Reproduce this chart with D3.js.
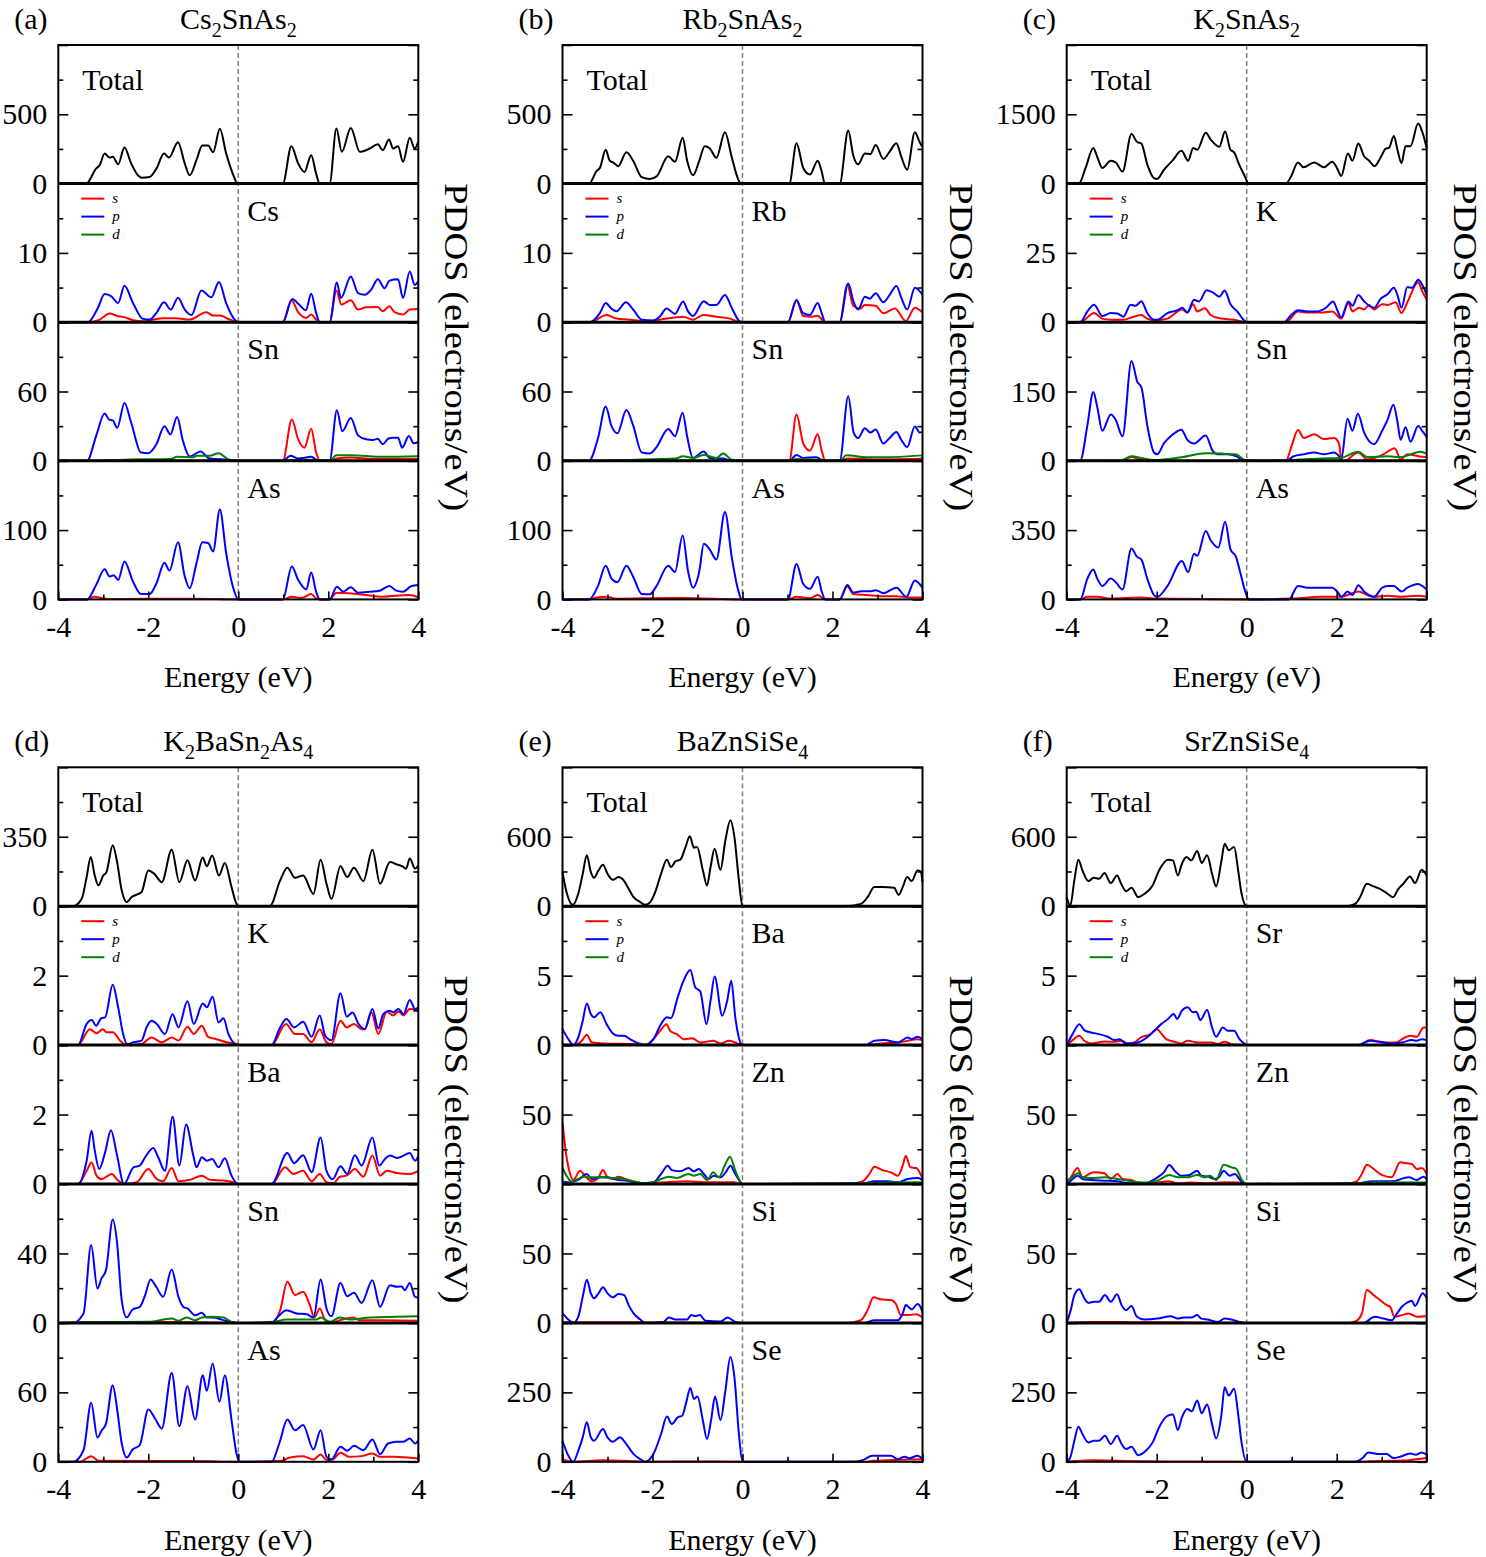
<!DOCTYPE html>
<html><head><meta charset="utf-8">
<script src="https://cdn.jsdelivr.net/npm/d3@7"></script>
<style>body{margin:0;background:#fff}</style>
</head><body>
<svg id="chart" width="1486" height="1557"></svg>
<script>
// ---------- tick labels / categories ----------
const panelLetters = ["(a)","(b)","(c)","(d)","(e)","(f)"];
const panelTitles = ["Cs2SnAs2","Rb2SnAs2","K2SnAs2","K2BaSn2As4","BaZnSiSe4","SrZnSiSe4"];
const elementLabels = [["Total","Cs","Sn","As"],["Total","Rb","Sn","As"],["Total","K","Sn","As"],
  ["Total","K","Ba","Sn","As"],["Total","Ba","Zn","Si","Se"],["Total","Sr","Zn","Si","Se"]];
const yMax = [[1000,20,120,200],[1000,20,120,200],[3000,50,300,700],[700,4,4,80,120],
  [1200,10,100,100,500],[1200,10,100,100,500]];
const xMajor = [-4,-2,0,2,4];
const xMinor = [-3,-1,1,3];
const orbitalNames = ["s","p","d"];
const xTitle = "Energy (eV)";
const yTitle = "PDOS (electrons/eV)";

// ---------- (a) Cs2SnAs2 ----------
const aTotal=[[-4,0],[-3.38,0],[-3.16,108],[-3.08,133],[-2.97,217],[-2.86,188],[-2.79,193],[-2.67,140],[-2.53,260],[-2.38,145],[-2.23,60],[-2.15,43],[-1.97,48],[-1.82,108],[-1.65,217],[-1.54,188],[-1.34,299],[-1.19,145],[-1.08,60],[-0.93,169],[-0.8,275],[-0.67,275],[-0.56,226],[-0.41,395],[-0.27,217],[-0.08,36],[-0.03,0],[0.99,0],[1.18,270],[1.33,145],[1.47,84],[1.62,205],[1.73,72],[1.81,0],[2.03,0],[2.18,398],[2.3,229],[2.5,402],[2.7,229],[2.92,253],[3.1,284],[3.21,241],[3.35,318],[3.44,253],[3.55,270],[3.66,157],[3.81,330],[3.92,253],[4.0,306]];
const aCsS=[[-4,0],[-3.34,0],[-3.08,0.38],[-2.86,1.24],[-2.67,0.86],[-2.56,0.77],[-2.34,0.29],[-2.12,0.14],[-1.97,0.29],[-1.67,0.57],[-1.38,0.57],[-1.08,0.38],[-0.71,1.44],[-0.56,0.96],[-0.41,0.96],[-0.19,0.38],[0,0],[0.99,0],[1.18,3.16],[1.33,1.44],[1.51,0.62],[1.62,1.1],[1.73,0.38],[1.81,0],[2.03,0],[2.18,4.59],[2.29,2.54],[2.5,3.16],[2.66,1.82],[2.84,2.15],[3.1,2.2],[3.21,1.58],[3.36,2.3],[3.47,1.44],[3.66,1.1],[3.81,1.82],[4.0,1.91]];
const aCsP=[[-4,0],[-3.34,0],[-3.12,2.06],[-2.97,4.07],[-2.82,3.73],[-2.67,2.77],[-2.53,5.26],[-2.34,2.77],[-2.12,0.48],[-1.97,0.38],[-1.82,1.34],[-1.65,2.87],[-1.5,1.82],[-1.34,3.54],[-1.19,1.82],[-1.04,1.05],[-0.82,4.59],[-0.6,3.59],[-0.43,5.79],[-0.27,2.77],[-0.08,0.38],[0,0],[0.99,0],[1.2,3.35],[1.35,2.54],[1.5,1.72],[1.62,4.11],[1.73,1.34],[1.81,0],[2.03,0],[2.19,5.74],[2.28,3.49],[2.5,6.6],[2.66,4.2],[2.81,3.97],[2.96,4.78],[3.1,6.2],[3.25,4.9],[3.36,6.0],[3.55,6.2],[3.66,3.49],[3.81,7.3],[3.92,5.4],[4.0,5.9]];
const aSnS=[[-4,0],[0.99,0],[1.19,35.7],[1.33,18.6],[1.47,11.4],[1.62,27.7],[1.73,7.1],[1.81,0],[2.03,0],[2.18,2],[2.5,2.9],[3,1.5],[4,1.5]];
const aSnP=[[-4,0],[-3.36,0],[-3.16,21.4],[-2.97,40.9],[-2.87,35.7],[-2.79,35],[-2.69,28.6],[-2.53,50],[-2.38,32.9],[-2.16,7.1],[-2.0,6.6],[-1.82,14.3],[-1.64,30],[-1.51,22.9],[-1.36,38],[-1.23,17.1],[-1.08,3.7],[-0.84,8],[-0.64,2],[-0.41,1.4],[-0.27,0.9],[0,0],[0.99,0],[1.16,4.3],[1.33,2],[1.62,3.4],[1.78,0],[2.03,0],[2.19,43.7],[2.31,25.7],[2.5,37.1],[2.66,22],[2.84,18.6],[2.99,18],[3.1,19.1],[3.21,14.3],[3.33,19.1],[3.44,20],[3.55,20],[3.64,11.4],[3.79,21.4],[3.9,15.1],[4.0,16.3]];
const aSnD=[[-4,0],[-3.3,0],[-2.5,1],[-1.5,1.5],[-1.36,3.4],[-1.0,3],[-0.93,4.3],[-0.64,4.3],[-0.43,6.6],[-0.23,1.4],[0,0],[1.0,0],[1.5,1],[1.8,0.5],[2.03,0],[2.18,4.9],[2.5,4.9],[3.21,3.4],[4.0,4]];
const aAsS=[[-4,0],[-3.36,0],[-3.2,3.9],[-2.9,0.5],[-2,1],[-1,1],[0,0],[0.99,0],[1.19,3.9],[1.4,2],[1.62,7.7],[1.73,1.5],[1.81,0],[2.03,0],[2.18,9.7],[2.48,8.7],[2.84,6.3],[3.21,3.9],[3.8,6.3],[4.0,2.9]];
const aAsP=[[-4,0],[-3.36,0],[-3.16,20.8],[-2.97,43.6],[-2.86,33],[-2.77,35],[-2.67,28],[-2.53,54.7],[-2.34,25.7],[-2.16,7.7],[-1.97,7.7],[-1.82,23],[-1.64,53],[-1.53,41.6],[-1.34,82.3],[-1.19,33],[-1.08,16],[-0.93,52],[-0.8,82.3],[-0.67,81.4],[-0.56,69.2],[-0.41,129.8],[-0.27,66.8],[-0.12,18.4],[0,0],[0.99,0],[1.19,47.5],[1.33,28],[1.51,14.5],[1.62,38.7],[1.73,11],[1.81,0],[2.03,0],[2.19,18.4],[2.33,11],[2.5,17.4],[2.66,9.7],[2.92,11],[3.14,12.6],[3.36,19.4],[3.51,12.6],[3.66,11],[3.85,19.4],[4.0,20.8]];

// ---------- (b) Rb2SnAs2 ----------
const bTotal=[[-4,0],[-3.41,0],[-3.24,92],[-3.17,113],[-3.04,244],[-2.95,165],[-2.87,152],[-2.76,126],[-2.58,226],[-2.43,165],[-2.24,47],[-2.06,34],[-1.91,52],[-1.65,197],[-1.5,157],[-1.33,331],[-1.23,165],[-1.1,60],[-0.96,165],[-0.84,270],[-0.73,255],[-0.58,186],[-0.39,370],[-0.24,192],[-0.1,34],[-0.04,0],[1.04,0],[1.2,291],[1.35,113],[1.5,66],[1.67,165],[1.76,87],[1.83,0],[2.16,0],[2.35,383],[2.46,205],[2.57,139],[2.72,218],[2.84,213],[2.96,278],[3.13,178],[3.27,231],[3.42,291],[3.53,192],[3.66,100],[3.83,370],[3.94,297],[4.0,265]];
const bRbS=[[-4,0],[-3.39,0],[-3.02,1.05],[-2.8,0.52],[-2.5,0.37],[-2.21,0.16],[-1.84,0.37],[-1.32,0.79],[-1.1,0.37],[-0.87,1.05],[-0.58,0.79],[-0.28,0.52],[-0.06,0],[1.01,0],[1.2,3.24],[1.35,0.9],[1.53,0.79],[1.67,0.94],[1.83,0],[2.16,0],[2.33,5.4],[2.46,2.36],[2.61,1.94],[2.72,2.5],[2.96,2.36],[3.13,1.3],[3.39,1.99],[3.63,0.16],[3.83,2.1],[4.0,1.41]];
const bRbP=[[-4,0],[-3.39,0],[-3.17,1.3],[-3.04,2.77],[-2.91,1.94],[-2.8,1.57],[-2.59,2.88],[-2.43,1.83],[-2.24,0.37],[-1.99,0.26],[-1.84,0.79],[-1.69,1.99],[-1.5,1.2],[-1.32,2.98],[-1.21,1.57],[-1.1,0.9],[-0.86,3.04],[-0.73,2.5],[-0.58,2.5],[-0.39,3.93],[-0.24,2.1],[-0.07,0.16],[0,0],[1.01,0],[1.2,3.14],[1.35,1.3],[1.5,1.05],[1.67,2.77],[1.76,1.3],[1.84,0],[2.16,0],[2.35,5.6],[2.47,2.9],[2.57,1.83],[2.72,3.66],[2.83,3.4],[2.96,4.19],[3.13,2.88],[3.27,3.93],[3.42,5.24],[3.53,3.5],[3.66,1.83],[3.83,4.97],[3.94,4.45],[4.0,3.93]];
const bSnS=[[-4,0],[1.04,0],[1.2,40],[1.35,15],[1.5,8.8],[1.67,22.9],[1.76,8.8],[1.84,0],[2.16,0],[2.35,2],[3,1.2],[3.8,1.5],[4,2]];
const bSnP=[[-4,0],[-3.41,0],[-3.21,19.7],[-3.04,47],[-2.91,30],[-2.78,23.8],[-2.58,43.9],[-2.43,30.7],[-2.24,7.2],[-2.06,6.3],[-1.91,11.9],[-1.65,27.6],[-1.5,21.3],[-1.33,41.7],[-1.23,21],[-1.1,2.5],[-0.86,8.1],[-0.73,2.5],[-0.43,1.9],[-0.24,0],[1.04,0],[1.2,5],[1.35,2.5],[1.64,3.1],[1.81,0],[2.16,0],[2.35,55.8],[2.47,24.4],[2.57,19.7],[2.72,28.2],[2.84,24.4],[2.96,27],[3.13,15],[3.27,19.7],[3.42,25],[3.53,18],[3.66,11.9],[3.83,29.8],[3.94,24.4],[4.0,25]];
const bSnD=[[-4,0],[-3.4,0],[-2.5,0.8],[-1.48,2],[-1.33,4],[-1.1,2.5],[-0.86,5],[-0.58,2.5],[-0.43,6.3],[-0.24,1],[0,0],[1.04,0],[1.2,1.5],[1.84,0.5],[2.16,0],[2.31,4.7],[2.76,3.1],[3.13,3.1],[4.0,4.7]];
const bAsS=[[-4,0],[-3.41,0],[-3.24,2.6],[-3.02,3.7],[-2.8,1],[-1.65,2],[-1.33,2],[-0.06,0],[1.01,0],[1.2,3.7],[1.5,1.5],[1.67,6.3],[1.84,0],[2.16,0],[2.33,18.5],[2.46,7.9],[2.76,6.3],[3.13,4.7],[3.42,4.7],[3.72,2.6],[4.0,2.6]];
const bAsP=[[-4,0],[-3.41,0],[-3.21,19.5],[-3.04,48.5],[-2.91,30],[-2.78,24.8],[-2.58,48.5],[-2.43,32.7],[-2.24,7.9],[-2.06,7.4],[-1.91,19.5],[-1.65,48.5],[-1.5,39.6],[-1.33,92.3],[-1.21,40.6],[-1.1,16.9],[-0.96,40.6],[-0.86,80.2],[-0.73,72.3],[-0.58,57.5],[-0.39,126],[-0.24,61.7],[-0.1,14.2],[-0.02,0],[1.01,0],[1.2,51.2],[1.35,22.2],[1.5,15.3],[1.67,32.7],[1.76,11.6],[1.84,0],[2.16,0],[2.33,20.6],[2.46,10],[2.64,11.6],[2.83,11.6],[2.96,13.2],[3.13,9],[3.42,16.9],[3.64,3.7],[3.83,27.4],[4.0,16.9]];

// ---------- (c) K2SnAs2 ----------
const cTotal=[[-4,0],[-3.73,0],[-3.58,339],[-3.41,772],[-3.32,575],[-3.21,339],[-3.02,496],[-2.91,457],[-2.76,260],[-2.56,1071],[-2.44,906],[-2.34,866],[-2.21,417],[-2.06,118],[-1.99,102],[-1.84,299],[-1.65,496],[-1.45,709],[-1.3,496],[-1.19,772],[-1.1,732],[-0.91,1102],[-0.8,953],[-0.61,795],[-0.48,1126],[-0.36,732],[-0.28,677],[-0.17,417],[-0.06,197],[0.05,0],[0.87,0],[0.98,142],[1.14,457],[1.26,354],[1.5,457],[1.72,354],[1.9,472],[2.01,330],[2.1,165],[2.25,654],[2.35,496],[2.48,866],[2.61,591],[2.72,496],[2.84,378],[2.98,575],[3.09,756],[3.16,772],[3.27,1031],[3.35,732],[3.44,441],[3.53,811],[3.64,811],[3.81,1299],[3.9,1126],[4.0,772]];
const cKS=[[-4,0],[-3.7,0],[-3.39,3.3],[-3.21,1.3],[-3.02,0.9],[-2.73,0.9],[-2.56,1.7],[-2.34,2.6],[-2.21,1.3],[-2.06,0.65],[-1.76,1.3],[-1.43,4.6],[-1.32,3.5],[-1.19,6.5],[-1.1,3.9],[-0.93,5],[-0.8,2.6],[-0.58,1.3],[-0.28,0.9],[0.01,0],[0.87,0],[1.14,3.9],[1.35,3.5],[1.64,3.5],[1.9,3.9],[2.1,1.3],[2.26,6.9],[2.35,3.9],[2.5,5.2],[2.61,4.6],[2.72,6.2],[2.83,4.6],[3.01,6.5],[3.13,6.2],[3.31,7.2],[3.44,3.3],[3.57,7.2],[3.81,14.4],[3.9,11.1],[4.0,8.2]];
const cKP=[[-4,0],[-3.7,0],[-3.54,3.9],[-3.39,6.3],[-3.21,2.2],[-3.02,3.3],[-2.87,3.1],[-2.74,2],[-2.58,6.3],[-2.47,5.9],[-2.34,7.6],[-2.21,3.3],[-2.06,0.9],[-1.99,0.9],[-1.76,3.3],[-1.54,4.3],[-1.43,5.2],[-1.32,3.5],[-1.17,8.1],[-1.06,7.5],[-0.89,11.5],[-0.73,10.5],[-0.61,9.2],[-0.49,11.4],[-0.36,6.5],[-0.21,3.9],[-0.06,0.7],[0.01,0],[0.83,0],[0.99,2.6],[1.14,4.3],[1.35,3.9],[1.57,3.9],[1.76,5.2],[1.92,7.5],[2.01,4.5],[2.1,1.7],[2.26,7.5],[2.35,5.9],[2.48,9.8],[2.61,7.5],[2.83,5.2],[2.98,8.5],[3.13,10.1],[3.27,12.4],[3.35,9.8],[3.44,5.2],[3.57,12.7],[3.68,12.4],[3.81,15.3],[3.9,13.5],[4.0,9.8]];
const cSnS=[[-4,0],[-2.8,0],[-2.56,8],[-2.34,2],[-2,0],[0.87,0],[0.99,29.8],[1.14,66.6],[1.27,49.3],[1.5,57.2],[1.72,47],[1.94,49.3],[2.05,37.6],[2.1,6.3],[2.16,0],[2.48,18],[2.68,3],[3.04,14],[3.29,27.4],[3.42,3],[3.57,14],[3.81,10],[4.0,8]];
const cSnP=[[-4,0],[-3.7,0],[-3.54,76.8],[-3.41,148.8],[-3.32,116],[-3.21,65],[-3.02,100],[-2.91,88.5],[-2.76,53],[-2.56,216],[-2.43,170.8],[-2.34,159],[-2.21,76.8],[-2.06,18],[-1.99,14],[-1.84,37.6],[-1.69,53],[-1.45,67.4],[-1.32,45.4],[-1.17,37.6],[-0.91,54.8],[-0.76,22],[-0.65,14],[-0.43,14],[-0.24,10],[-0.1,2.3],[0,0],[0.87,0],[1.05,10],[1.27,14],[1.5,18],[1.72,14],[1.94,18],[2.05,10],[2.1,3],[2.24,90.9],[2.35,65],[2.47,101.8],[2.61,61],[2.83,36],[3.01,65],[3.13,88.5],[3.26,121.4],[3.35,84.6],[3.42,45.4],[3.53,72.8],[3.64,41.5],[3.81,75.2],[3.9,65],[4.0,51.7]];
const cSnD=[[-4,0],[-2.8,0.5],[-2.56,10],[-2.34,6],[-2.06,1.5],[-1.45,7.8],[-0.91,16.4],[-0.58,15.7],[-0.24,14],[-0.06,2.3],[0.1,0],[0.9,1],[1.64,5],[2.08,6.3],[2.48,19.6],[2.68,8],[3.13,10],[3.42,8],[3.86,19.6],[4.0,15.7]];
const cAsS=[[-4,0],[-3.7,0],[-3.54,13],[-3.32,13],[-3.02,4],[-2.34,9],[-2.06,4],[0.01,0],[1.05,4],[1.64,13],[2.08,13],[2.24,22],[2.48,40],[2.68,22],[2.83,13],[3.13,18],[3.42,13],[3.81,18],[4.0,13]];
const cAsP=[[-4,0],[-3.7,0],[-3.54,105],[-3.41,151],[-3.32,105],[-3.21,68],[-3.02,105],[-2.91,87],[-2.76,50],[-2.56,257],[-2.44,216],[-2.34,201],[-2.21,105],[-2.06,22],[-1.99,13],[-1.76,68],[-1.44,194],[-1.3,138],[-1.17,231],[-1.1,220],[-0.91,345],[-0.8,299],[-0.63,262],[-0.48,392],[-0.36,253],[-0.24,216],[-0.13,124],[-0.02,31],[0.05,0],[0.94,0],[1.14,68],[1.35,59],[1.57,59],[1.9,59],[2.01,40],[2.11,13],[2.24,40],[2.35,22],[2.48,72],[2.61,40],[2.83,13],[3.01,59],[3.13,68],[3.27,68],[3.44,40],[3.57,59],[3.81,77.6],[3.9,68],[4.0,50]];

// ---------- (d) K2BaSn2As4 ----------
const dTotal=[[-4,0],[-3.67,0],[-3.48,37],[-3.37,147],[-3.28,248],[-3.19,155],[-3.11,105],[-3.0,155],[-2.93,172],[-2.79,307],[-2.7,231],[-2.59,79],[-2.48,20],[-2.37,46],[-2.22,62],[-2.15,71],[-2.0,180],[-1.87,164],[-1.7,121],[-1.48,285],[-1.31,121],[-1.13,231],[-0.96,130],[-0.79,245],[-0.7,201],[-0.58,256],[-0.43,155],[-0.3,218],[-0.15,96],[-0.04,12],[0,0],[0.7,0],[0.93,130],[1.09,194],[1.26,143],[1.44,155],[1.67,62],[1.83,234],[1.96,113],[2.07,37],[2.27,201],[2.42,147],[2.57,194],[2.78,126],[2.98,285],[3.15,113],[3.37,223],[3.52,211],[3.65,201],[3.73,189],[3.81,240],[3.93,189],[4.0,206]];
const dKS=[[-4,0],[-3.56,0],[-3.3,0.46],[-3.15,0.34],[-3.01,0.46],[-2.93,0.37],[-2.79,0.37],[-2.63,0.13],[-2.48,0],[-2.15,0.03],[-1.93,0.22],[-1.7,0.08],[-1.48,0.22],[-1.33,0.13],[-1.13,0.53],[-0.99,0.32],[-0.81,0.56],[-0.67,0.24],[-0.48,0.17],[-0.26,0.08],[-0.04,0.03],[0,0],[0.74,0],[1.06,0.61],[1.26,0.32],[1.44,0.32],[1.63,0.08],[1.81,0.46],[1.96,0.08],[2.07,0.03],[2.27,0.7],[2.41,0.51],[2.57,0.61],[2.74,0.46],[2.81,0.46],[2.96,0.94],[3.11,0.32],[3.3,0.97],[3.44,0.85],[3.56,0.97],[3.67,0.85],[3.81,1.04],[4.0,1.01]];
const dKP=[[-4,0],[-3.56,0],[-3.37,0.61],[-3.26,0.72],[-3.16,0.56],[-3.04,0.78],[-2.96,0.8],[-2.79,1.74],[-2.67,1.09],[-2.56,0.32],[-2.47,0.03],[-2.33,0.08],[-2.15,0.13],[-2.04,0.51],[-1.93,0.7],[-1.81,0.61],[-1.63,0.32],[-1.46,0.89],[-1.33,0.51],[-1.13,1.26],[-0.99,0.61],[-0.79,1.2],[-0.7,1.09],[-0.57,1.39],[-0.44,0.65],[-0.33,0.77],[-0.22,0.32],[-0.07,0.03],[0,0],[0.74,0],[0.93,0.51],[1.07,0.75],[1.24,0.51],[1.44,0.67],[1.63,0.24],[1.81,0.85],[1.93,0.27],[2.07,0.14],[2.27,1.49],[2.41,0.82],[2.54,0.94],[2.67,0.61],[2.81,0.46],[2.98,1.04],[3.11,0.48],[3.22,0.89],[3.37,0.99],[3.44,0.94],[3.56,1.04],[3.67,0.89],[3.81,1.3],[3.93,1.04],[4.0,1.09]];
const dBaS=[[-4,0],[-3.56,0],[-3.37,0.38],[-3.26,0.62],[-3.15,0.24],[-3.04,0.14],[-2.81,0.29],[-2.7,0.14],[-2.54,0],[-2.26,0.05],[-2.0,0.43],[-1.81,0.14],[-1.67,0.08],[-1.48,0.46],[-1.33,0.08],[-1.07,0.12],[-0.81,0.24],[-0.63,0.12],[-0.33,0.1],[-0.04,0.02],[0,0],[0.74,0],[1.04,0.48],[1.22,0.29],[1.44,0.38],[1.63,0.08],[1.81,0.29],[1.96,0.05],[2.11,0.02],[2.26,0.21],[2.41,0.24],[2.59,0.43],[2.78,0.21],[2.98,0.82],[3.15,0.24],[3.3,0.38],[3.52,0.32],[3.81,0.29],[4.0,0.38]];
const dBaP=[[-4,0],[-3.56,0],[-3.37,0.67],[-3.26,1.53],[-3.19,0.96],[-3.09,0.43],[-2.96,0.91],[-2.83,1.55],[-2.7,0.86],[-2.54,0],[-2.33,0.48],[-2.19,0.53],[-2.07,0.77],[-1.89,1.04],[-1.78,0.77],[-1.63,0.38],[-1.46,1.94],[-1.31,0.53],[-1.16,1.71],[-1.0,0.82],[-0.93,0.48],[-0.81,0.77],[-0.7,0.67],[-0.58,0.72],[-0.44,0.48],[-0.3,0.74],[-0.15,0.24],[-0.04,0.02],[0,0],[0.74,0],[1.09,0.89],[1.24,0.6],[1.44,0.83],[1.63,0.34],[1.83,1.34],[1.96,0.38],[2.1,0.14],[2.27,0.51],[2.42,0.29],[2.59,0.83],[2.74,0.53],[2.98,1.34],[3.13,0.53],[3.26,0.72],[3.37,0.82],[3.52,0.75],[3.63,0.79],[3.81,0.89],[3.93,0.67],[4.0,0.8]];
const dSnS=[[-4,0],[-3.3,0.3],[-2.8,0.5],[-1.5,0.5],[0,0],[0.74,0],[0.93,7.3],[1.09,23.7],[1.26,16],[1.44,17.9],[1.59,10.2],[1.69,3.1],[1.81,8.3],[1.93,1.5],[2.04,0],[2.26,1.5],[2.56,3.1],[2.7,1.5],[3.2,1.5],[4.0,1.2]];
const dSnP=[[-4,0],[-3.67,0],[-3.44,5.4],[-3.27,44.8],[-3.13,19.8],[-3.04,25.6],[-2.94,30.4],[-2.79,59.6],[-2.7,47.7],[-2.59,13],[-2.48,3.1],[-2.35,7.7],[-2.19,9.2],[-2.07,16],[-1.95,25],[-1.83,21],[-1.67,15],[-1.48,30.8],[-1.33,15],[-1.22,9.2],[-1.13,8.3],[-0.96,4.4],[-0.81,5.8],[-0.7,3.1],[-0.56,3.1],[-0.37,1.9],[-0.19,0.6],[-0.04,0],[0.74,0],[0.89,3.8],[1.07,7.3],[1.3,5.4],[1.52,5],[1.67,3.1],[1.83,25],[1.96,8.3],[2.07,3.8],[2.27,23],[2.42,15.4],[2.57,17.3],[2.74,11.5],[2.98,24.6],[3.15,9.2],[3.37,21.7],[3.52,20.8],[3.63,21],[3.7,18.8],[3.81,23],[3.93,15],[4.0,14.6]];
const dSnD=[[-4,0],[-3.3,0.5],[-2.0,0.6],[-1.48,2.5],[-1.33,1.2],[-1.15,3.1],[-0.96,1.5],[-0.81,3.1],[-0.56,3.5],[-0.33,3.1],[-0.15,0.6],[0,0],[0.78,0.6],[1.07,1.9],[1.74,1.9],[1.83,3.1],[2.04,0.6],[2.26,3.1],[2.48,1.9],[2.93,3.1],[3.52,3.5],[4.0,3.8]];
const dAsS=[[-4,0],[-3.52,0],[-3.27,4.9],[-3.1,0.9],[-2,0.6],[-1,0.6],[0,0],[0.93,0.6],[1.15,3.7],[1.44,4.9],[1.67,2],[1.83,6.3],[1.96,1.5],[2.1,2],[2.27,7.8],[2.47,4.3],[2.74,4.9],[2.98,7.2],[3.15,4.3],[3.45,4.3],[4.0,2.9]];
const dAsP=[[-4,0],[-3.67,0],[-3.44,10],[-3.27,51],[-3.13,21],[-3.04,26.8],[-2.94,33],[-2.79,66.2],[-2.7,47.5],[-2.59,15.8],[-2.48,3.7],[-2.35,10.6],[-2.19,14.4],[-2.0,45.2],[-1.85,37.4],[-1.7,28.8],[-1.48,76.8],[-1.31,30.8],[-1.13,65.3],[-0.96,36.5],[-0.79,74.8],[-0.7,61.3],[-0.57,84.9],[-0.42,51.8],[-0.3,74.8],[-0.15,36],[-0.04,7.2],[0.02,0],[0.74,0],[0.91,15.8],[1.09,36.5],[1.26,27.3],[1.44,31.7],[1.67,10.6],[1.83,27.3],[1.96,4.3],[2.07,2],[2.27,13],[2.42,9.5],[2.57,13.8],[2.78,10],[2.98,19.3],[3.15,6.6],[3.33,15.8],[3.52,17.3],[3.67,17.3],[3.81,20.1],[3.93,15.8],[4.0,18.7]];

// ---------- (e) BaZnSiSe4 ----------
const eTotal=[[-4.0,295],[-3.91,121],[-3.77,12],[-3.65,107],[-3.55,280],[-3.46,440],[-3.37,295],[-3.3,246],[-3.2,309],[-3.1,358],[-3.0,280],[-2.88,228],[-2.76,252],[-2.64,223],[-2.53,150],[-2.42,78],[-2.27,35],[-2.16,12],[-2.05,35],[-1.94,121],[-1.81,280],[-1.68,402],[-1.59,338],[-1.49,387],[-1.38,402],[-1.27,506],[-1.17,604],[-1.08,506],[-1.01,512],[-0.88,309],[-0.79,179],[-0.71,338],[-0.62,497],[-0.49,315],[-0.38,570],[-0.27,743],[-0.18,598],[-0.08,223],[0,0],[2.26,0],[2.63,20],[2.78,78],[2.93,165],[3.11,165],[3.37,159],[3.47,98],[3.56,165],[3.66,252],[3.76,217],[3.89,309],[3.96,300],[4.0,208]];
const eBaS=[[-4.0,0.07],[-3.76,0],[-3.57,0.31],[-3.46,0.75],[-3.35,0.2],[-3.09,0.12],[-2.35,0.07],[-2.16,0.02],[-1.98,0.43],[-1.83,1.03],[-1.69,1.51],[-1.6,0.99],[-1.46,0.79],[-1.31,0.43],[-1.12,0.5],[-0.94,0.19],[-0.65,0.31],[-0.49,0.12],[-0.3,0.31],[-0.16,0.19],[-0.04,0.02],[0,0],[2.74,0],[3.08,0.12],[3.45,0.19],[3.67,0.31],[3.89,0.43],[4.0,0.36]];
const eBaP=[[-4.0,1.15],[-3.87,0.43],[-3.76,0],[-3.65,0.55],[-3.55,1.75],[-3.46,3.0],[-3.37,2.24],[-3.3,2.0],[-3.16,2.36],[-3.02,1.51],[-2.88,0.84],[-2.76,0.67],[-2.63,0.67],[-2.5,0.43],[-2.31,0.12],[-2.16,0],[-1.98,0.43],[-1.81,1.51],[-1.68,2.0],[-1.59,1.94],[-1.44,3.44],[-1.31,4.64],[-1.16,5.41],[-1.05,4.16],[-0.94,3.87],[-0.8,1.51],[-0.71,3.2],[-0.62,4.93],[-0.45,2.12],[-0.34,3.2],[-0.25,4.64],[-0.16,2.0],[-0.03,0.07],[0,0],[2.74,0],[2.93,0.31],[3.15,0.36],[3.45,0.19],[3.67,0.55],[3.76,0.43],[3.89,0.6],[4.0,0.43]];
const eZnS=[[-4.0,44.4],[-3.92,21.6],[-3.83,7.2],[-3.76,2.9],[-3.61,9.6],[-3.5,6],[-3.35,1.9],[-3.2,4.8],[-3.1,10],[-3.0,4.8],[-2.87,3.6],[-2.76,5.3],[-2.61,3.6],[-2.42,1.9],[-2.12,0.5],[-1.75,1.2],[-1.23,1.9],[-0.86,1.2],[-0.19,1.2],[0,0],[2.33,0],[2.67,1.9],[2.82,7.2],[2.93,12.5],[3.11,10],[3.3,8.4],[3.45,6],[3.56,13.2],[3.63,20.4],[3.73,12],[3.86,11.5],[3.97,6],[4.0,3.6]];
const eZnP=[[-4.0,1.9],[-3.83,1.2],[-3.65,2.9],[-3.46,7.2],[-3.35,3.6],[-3.16,4.8],[-3.02,4.8],[-2.76,2.9],[-2.57,2.4],[-2.27,0.5],[-1.98,1.2],[-1.81,7.2],[-1.66,13.2],[-1.57,10],[-1.38,9.1],[-1.2,11.5],[-1.08,9.1],[-0.97,10.8],[-0.86,7.2],[-0.75,3.6],[-0.64,6],[-0.49,4.8],[-0.36,9.1],[-0.27,13.2],[-0.16,7.2],[-0.04,1.2],[0,0],[2.7,0.5],[2.93,1.9],[3.22,1.9],[3.45,1.2],[3.67,3.6],[3.89,4.3],[4.0,2.9]];
const eZnD=[[-4.0,11.5],[-3.91,6],[-3.8,1.9],[-3.65,3.6],[-3.54,5.3],[-3.39,4.8],[-3.13,4.8],[-2.9,4.3],[-2.64,3.6],[-2.42,1.9],[-2.2,0.5],[-1.98,1.2],[-1.81,3.6],[-1.64,5.3],[-1.46,4.3],[-1.2,7.2],[-1.08,6],[-0.94,7.2],[-0.79,2.9],[-0.65,8.4],[-0.53,4.8],[-0.38,14.4],[-0.28,19.7],[-0.16,9.6],[-0.04,1.2],[0,0],[2.7,0.5],[3.22,1],[4.0,1.2]];
const eSiS=[[-4,0.5],[-3,0.5],[-2,0.3],[0,0],[2.33,0],[2.63,1.9],[2.78,9.2],[2.91,18.4],[3.07,17],[3.3,16.5],[3.41,13.6],[3.52,5.6],[3.67,5.6],[3.86,6.3],[4.0,3.9]];
const eSiP=[[-4.0,6.8],[-3.87,2.4],[-3.76,0],[-3.65,4.4],[-3.55,18.9],[-3.46,31],[-3.37,21.3],[-3.3,17.7],[-3.2,21.3],[-3.1,25.7],[-3.0,21.3],[-2.88,18.4],[-2.76,20.8],[-2.63,20],[-2.53,12.8],[-2.42,6.8],[-2.27,2.4],[-2.16,0],[-1.75,0.7],[-1.64,3.9],[-1.49,2.4],[-1.23,2.4],[-1.14,5.6],[-1.05,4.8],[-0.95,5.6],[-0.82,1.5],[-0.49,1],[-0.33,3.9],[-0.16,0.7],[0,0],[2.7,0],[2.93,1.9],[3.22,1.9],[3.45,1.9],[3.56,6.8],[3.63,12.8],[3.76,9.7],[3.89,13.6],[3.97,10.4],[4.0,6.8]];
const eSeS=[[-4,9.6],[-3.76,0],[-3.1,6],[-2.4,2],[-2.16,0],[-1,1.5],[0,0],[2.8,0],[2.9,3.6],[4.0,9.6]];
const eSeP=[[-4.0,75.9],[-3.87,21.7],[-3.76,0],[-3.65,39.8],[-3.55,88],[-3.46,142],[-3.37,88],[-3.3,75.9],[-3.1,118],[-3.0,88],[-2.88,72.3],[-2.72,88],[-2.61,70],[-2.42,27.7],[-2.27,9.6],[-2.16,0],[-1.98,27.7],[-1.81,100],[-1.68,162.7],[-1.57,136],[-1.44,160],[-1.34,166],[-1.25,214],[-1.16,266],[-1.08,226.5],[-1.0,235],[-0.88,148],[-0.79,82],[-0.7,148],[-0.61,235],[-0.49,150.6],[-0.38,256.6],[-0.27,377],[-0.18,304.8],[-0.08,100],[0,0],[2.48,0],[2.67,6],[2.89,21.7],[3.3,21.7],[3.45,9.6],[3.6,18],[3.71,13],[3.89,21.7],[4.0,9.6]];

// ---------- (f) SrZnSiSe4 ----------
const fTotal=[[-4.0,78],[-3.92,6],[-3.83,223],[-3.74,402],[-3.65,309],[-3.52,217],[-3.4,246],[-3.28,237],[-3.16,286],[-3.02,200],[-2.88,266],[-2.79,194],[-2.68,130],[-2.56,159],[-2.41,78],[-2.27,107],[-2.09,179],[-1.94,315],[-1.75,402],[-1.64,396],[-1.53,266],[-1.44,367],[-1.34,425],[-1.23,396],[-1.1,477],[-1.0,373],[-0.88,440],[-0.77,280],[-0.68,171],[-0.56,396],[-0.49,540],[-0.4,483],[-0.28,512],[-0.19,309],[-0.12,121],[0,0],[2.18,0],[2.41,20],[2.52,78],[2.67,194],[2.82,171],[2.96,150],[3.11,113],[3.25,78],[3.37,150],[3.48,194],[3.63,257],[3.74,200],[3.89,315],[4.0,266]];
const fSrS=[[-4.0,0],[-3.87,0.36],[-3.72,0.67],[-3.61,0.31],[-3.46,0.12],[-3.16,0.26],[-2.94,0.24],[-2.79,0.31],[-2.64,0.12],[-2.5,0.19],[-2.35,0.55],[-2.16,0.75],[-1.99,1.15],[-1.9,0.84],[-1.79,0.43],[-1.6,0.24],[-1.46,0.12],[-1.31,0.31],[-1.08,0.19],[-0.79,0.19],[-0.64,0.07],[-0.49,0.24],[-0.34,0.07],[-0.04,0],[2.48,0],[2.74,0.36],[3.04,0.19],[3.3,0.19],[3.52,0.55],[3.63,0.67],[3.78,0.6],[3.93,1.27],[4.0,1.27]];
const fSrP=[[-4.0,0],[-3.87,0.79],[-3.72,1.51],[-3.61,1.08],[-3.46,0.91],[-3.28,0.79],[-3.09,0.6],[-2.94,0.36],[-2.83,0.43],[-2.68,0.12],[-2.42,0.19],[-2.27,0.43],[-2.09,0.91],[-1.9,1.51],[-1.75,1.88],[-1.62,2.24],[-1.55,1.88],[-1.44,2.48],[-1.31,2.72],[-1.2,2.36],[-1.12,2.4],[-1.03,1.8],[-0.88,2.52],[-0.77,1.27],[-0.68,0.6],[-0.53,1.27],[-0.42,1.03],[-0.28,1.03],[-0.16,0.43],[-0.04,0.07],[0,0],[2.48,0],[2.74,0.31],[2.96,0.24],[3.22,0.12],[3.45,0.19],[3.67,0.36],[3.78,0.31],[3.89,0.43],[4.0,0.36]];
const fZnS=[[-4.0,1.9],[-3.91,4.8],[-3.76,11.5],[-3.65,4.8],[-3.5,7.2],[-3.39,8.4],[-3.16,7.7],[-3.02,3.6],[-2.87,7.2],[-2.76,3.6],[-2.57,2.9],[-2.35,0.5],[-1.98,1],[-1.75,1.9],[-1.53,0.5],[-1.23,1],[-0.86,0.5],[-0.49,1.2],[-0.19,1],[0,0],[2.18,0],[2.44,1.9],[2.56,7.2],[2.67,13.9],[2.82,10.8],[3.0,6.5],[3.22,4.8],[3.41,15.6],[3.56,14.9],[3.67,14.4],[3.78,10.8],[3.89,11.5],[4.0,7.2]];
const fZnP=[[-4.0,0],[-3.89,2.9],[-3.76,6],[-3.65,3.6],[-3.46,2.9],[-3.16,2.4],[-2.87,1.9],[-2.64,0.5],[-2.27,0.5],[-1.98,4.8],[-1.84,8.4],[-1.72,13.7],[-1.6,9.6],[-1.46,6],[-1.27,6.5],[-1.1,9.6],[-1.01,6],[-0.86,5.3],[-0.71,3.6],[-0.62,4.8],[-0.51,9.6],[-0.38,6],[-0.27,7.2],[-0.12,1.9],[0,0],[2.48,0.5],[2.78,1.9],[3.22,1.9],[3.6,4.8],[3.78,2.9],[3.93,5.3],[4.0,3.6]];
const fZnD=[[-4.0,1.2],[-3.87,5.3],[-3.74,7.7],[-3.65,4.8],[-3.46,4.3],[-3.16,4.8],[-2.87,3.6],[-2.57,1.9],[-2.27,1],[-1.98,2.4],[-1.72,6.5],[-1.53,4.8],[-1.31,4.8],[-1.1,6.5],[-0.94,4.8],[-0.82,6],[-0.68,2.9],[-0.51,13.9],[-0.34,12],[-0.23,10.8],[-0.12,3.6],[0,0],[2.48,0.5],[2.85,1.2],[4.0,1]];
const fSiS=[[-4,0],[-3.5,0.7],[-2.5,0.5],[-1.5,0.3],[0,0],[2.26,0],[2.44,1.5],[2.56,6.8],[2.67,23.7],[2.82,20],[2.96,16.5],[3.11,12.8],[3.19,11.6],[3.28,4.4],[3.45,5.6],[3.6,6.8],[3.78,4.4],[4.0,5]];
const fSiP=[[-4.0,0],[-3.91,9.2],[-3.83,20],[-3.72,24.2],[-3.61,17.7],[-3.52,14.5],[-3.39,15.3],[-3.28,15.3],[-3.15,20],[-3.02,15.3],[-2.88,20.6],[-2.78,12.8],[-2.68,9.2],[-2.56,12.1],[-2.44,4.4],[-2.27,2.4],[-1.98,3.1],[-1.69,4.8],[-1.53,3.1],[-1.4,3.9],[-1.23,3.9],[-1.1,5.6],[-1.01,3.1],[-0.86,2.4],[-0.64,0.7],[-0.49,3.1],[-0.34,2.4],[-0.16,0.7],[0,0],[2.59,0],[2.85,4.4],[3.04,3.1],[3.22,1.9],[3.34,6.8],[3.45,11.6],[3.56,14.5],[3.67,16],[3.74,12.1],[3.91,21.3],[4.0,17.7]];
const fSeS=[[-4,0],[-3.8,3],[-3.4,6],[-2.7,3],[-2.0,1.5],[0,0],[2.5,0],[2.9,3],[3.6,6],[4.0,13.3]];
const fSeP=[[-4.0,0],[-3.92,15.7],[-3.83,75.9],[-3.74,126.5],[-3.65,100],[-3.52,69.9],[-3.4,75.9],[-3.28,75.9],[-3.15,94],[-3.02,63.9],[-2.88,94],[-2.78,63.9],[-2.68,45.8],[-2.56,54.2],[-2.41,24],[-2.24,39.8],[-2.09,69.9],[-1.94,126.5],[-1.75,166],[-1.64,170],[-1.53,114.5],[-1.44,160],[-1.32,190],[-1.22,182],[-1.1,220.5],[-1.0,174.7],[-0.88,206],[-0.77,136],[-0.68,84.3],[-0.56,172],[-0.49,268.7],[-0.4,238.6],[-0.28,262.7],[-0.19,172],[-0.12,75.9],[0,0],[2.41,0],[2.59,15.7],[2.7,33.7],[2.93,27.7],[3.11,27.7],[3.26,13.3],[3.41,18],[3.63,30],[3.76,25.3],[3.89,33.7],[4.0,25.3]];

// series per panel / subpanel: [s, p, d]
const curveSets = [
  [[aTotal],[aCsS,aCsP,null],[aSnS,aSnP,aSnD],[aAsS,aAsP,null]],
  [[bTotal],[bRbS,bRbP,null],[bSnS,bSnP,bSnD],[bAsS,bAsP,null]],
  [[cTotal],[cKS,cKP,null],[cSnS,cSnP,cSnD],[cAsS,cAsP,null]],
  [[dTotal],[dKS,dKP,null],[dBaS,dBaP,null],[dSnS,dSnP,dSnD],[dAsS,dAsP,null]],
  [[eTotal],[eBaS,eBaP,null],[eZnS,eZnP,eZnD],[eSiS,eSiP,null],[eSeS,eSeP,null]],
  [[fTotal],[fSrS,fSrP,null],[fZnS,fZnP,fZnD],[fSiS,fSiP,null],[fSeS,fSeP,null]]
];

// ---------- styles / layout ----------
const FONT = '"Liberation Serif","Times New Roman",Times,serif';
const orbitalColors = ["#ff0000","#0000ff","#008000"];
const colLeft = [58.3, 562.5, 1066.7];
const W = 360;
const rowTop = [45, 767.3];
const subH = [138.6, 138.9];

const svg = d3.select("#chart");

function styleAxis(ax) {
  ax.select(".domain").remove();
  ax.selectAll("line").attr("stroke", "#000").attr("stroke-width", 1.6);
  ax.attr("font-family", FONT).attr("font-size", 30);
  ax.selectAll("text").attr("fill", "#000");
}

curveSets.forEach((subs, i) => {
  const col = i % 3, row = Math.floor(i / 3);
  const left = colLeft[col], top = rowTop[row], h = subH[row];
  const n = subs.length, bottom = top + n * h;
  const x = d3.scaleLinear().domain([-4, 4]).range([left, left + W]);
  const g = svg.append("g");

  // dashed Fermi level line
  g.append("line").attr("x1", x(0)).attr("x2", x(0)).attr("y1", top).attr("y2", bottom)
    .attr("stroke", "#808080").attr("stroke-width", 1.5).attr("stroke-dasharray", "5,3");

  subs.forEach((series, k) => {
    const sTop = top + k * h, sBot = sTop + h, max = yMax[i][k];
    const y = d3.scaleLinear().domain([0, max]).range([sBot, sTop]);
    const line = d3.line().x(d => x(d[0])).y(d => y(d[1])).curve(d3.curveMonotoneX);
    series.forEach((data, j) => {
      if (!data) return;
      g.append("path").datum(data).attr("d", line).attr("fill", "none")
        .attr("stroke", k === 0 ? "#000" : orbitalColors[j])
        .attr("stroke-width", 2).attr("stroke-linejoin", "round");
    });

    // left axis (labels) + minor ticks, right axis ticks
    const axL = g.append("g").attr("transform", `translate(${left},0)`)
      .call(d3.axisLeft(y).tickValues([0, max / 2, max]).tickSize(-10).tickPadding(11)
        .tickFormat(d => d === max ? "" : String(d)));
    styleAxis(axL);
    const axLm = g.append("g").attr("transform", `translate(${left},0)`)
      .call(d3.axisLeft(y).tickValues([max / 4, 3 * max / 4]).tickSize(-5).tickFormat(""));
    styleAxis(axLm);
    const axR = g.append("g").attr("transform", `translate(${left + W},0)`)
      .call(d3.axisRight(y).tickValues([0, max / 2, max]).tickSize(-10).tickFormat(""));
    styleAxis(axR);
    const axRm = g.append("g").attr("transform", `translate(${left + W},0)`)
      .call(d3.axisRight(y).tickValues([max / 4, 3 * max / 4]).tickSize(-5).tickFormat(""));
    styleAxis(axRm);

    // subpanel label
    const lab = elementLabels[i][k];
    if (k === 0) {
      g.append("text").attr("x", left + 24).attr("y", sTop + 45).text(lab)
        .attr("font-family", FONT).attr("font-size", 30);
    } else {
      g.append("text").attr("x", x(0) + 9).attr("y", sTop + 37).text(lab)
        .attr("font-family", FONT).attr("font-size", 30);
    }

    // legend in the first element subpanel
    if (k === 1) {
      orbitalNames.forEach((o, j) => {
        const yy = sTop + 15 + j * 18;
        g.append("line").attr("x1", left + 23).attr("x2", left + 46).attr("y1", yy).attr("y2", yy)
          .attr("stroke", orbitalColors[j]).attr("stroke-width", 2);
        g.append("text").attr("x", left + 54).attr("y", yy).attr("dy", "0.3em").text(o)
          .attr("font-family", FONT).attr("font-size", 15).attr("font-style", "italic");
      });
    }
  });

  // separators and frame
  for (let k = 1; k < n; k++) {
    g.append("line").attr("x1", left).attr("x2", left + W)
      .attr("y1", top + k * h).attr("y2", top + k * h)
      .attr("stroke", "#000").attr("stroke-width", 3);
  }
  g.append("rect").attr("x", left).attr("y", top).attr("width", W).attr("height", n * h)
    .attr("fill", "none").attr("stroke", "#000").attr("stroke-width", 2);

  // x axis
  const axB = g.append("g").attr("transform", `translate(0,${bottom})`)
    .call(d3.axisBottom(x).tickValues(xMajor).tickSize(-8).tickPadding(16).tickFormat(d => String(d)));
  styleAxis(axB);
  const axBm = g.append("g").attr("transform", `translate(0,${bottom})`)
    .call(d3.axisBottom(x).tickValues(xMinor).tickSize(-5).tickFormat(""));
  styleAxis(axBm);

  g.append("text").attr("x", left + W / 2).attr("y", bottom + 88).attr("text-anchor", "middle")
    .attr("font-family", FONT).attr("font-size", 30).text(xTitle);

  // right-side rotated axis title (baseline on the left, glyph tops to the right)
  g.append("text")
    .attr("transform", `translate(${left + W + 27},${(top + bottom) / 2 + 25}) rotate(90)`)
    .attr("text-anchor", "middle")
    .attr("font-family", FONT).attr("font-size", 34)
    .attr("textLength", 328).attr("lengthAdjust", "spacingAndGlyphs")
    .text(yTitle);

  // panel letter and title
  g.append("text").attr("x", left - 44).attr("y", top - 16)
    .attr("font-family", FONT).attr("font-size", 30).text(panelLetters[i]);
  const t = g.append("text").attr("x", left + W / 2).attr("y", top - 16).attr("text-anchor", "middle")
    .attr("font-family", FONT).attr("font-size", 30);
  let shifted = false;
  panelTitles[i].match(/[A-Za-z]+|\d+/g).forEach(part => {
    const isNum = /\d/.test(part);
    const ts = t.append("tspan").text(part);
    if (isNum) { ts.attr("font-size", 20).attr("dy", shifted ? 0 : 8); shifted = true; }
    else { ts.attr("dy", shifted ? -8 : 0); shifted = false; }
  });
});
</script>
</body></html>
